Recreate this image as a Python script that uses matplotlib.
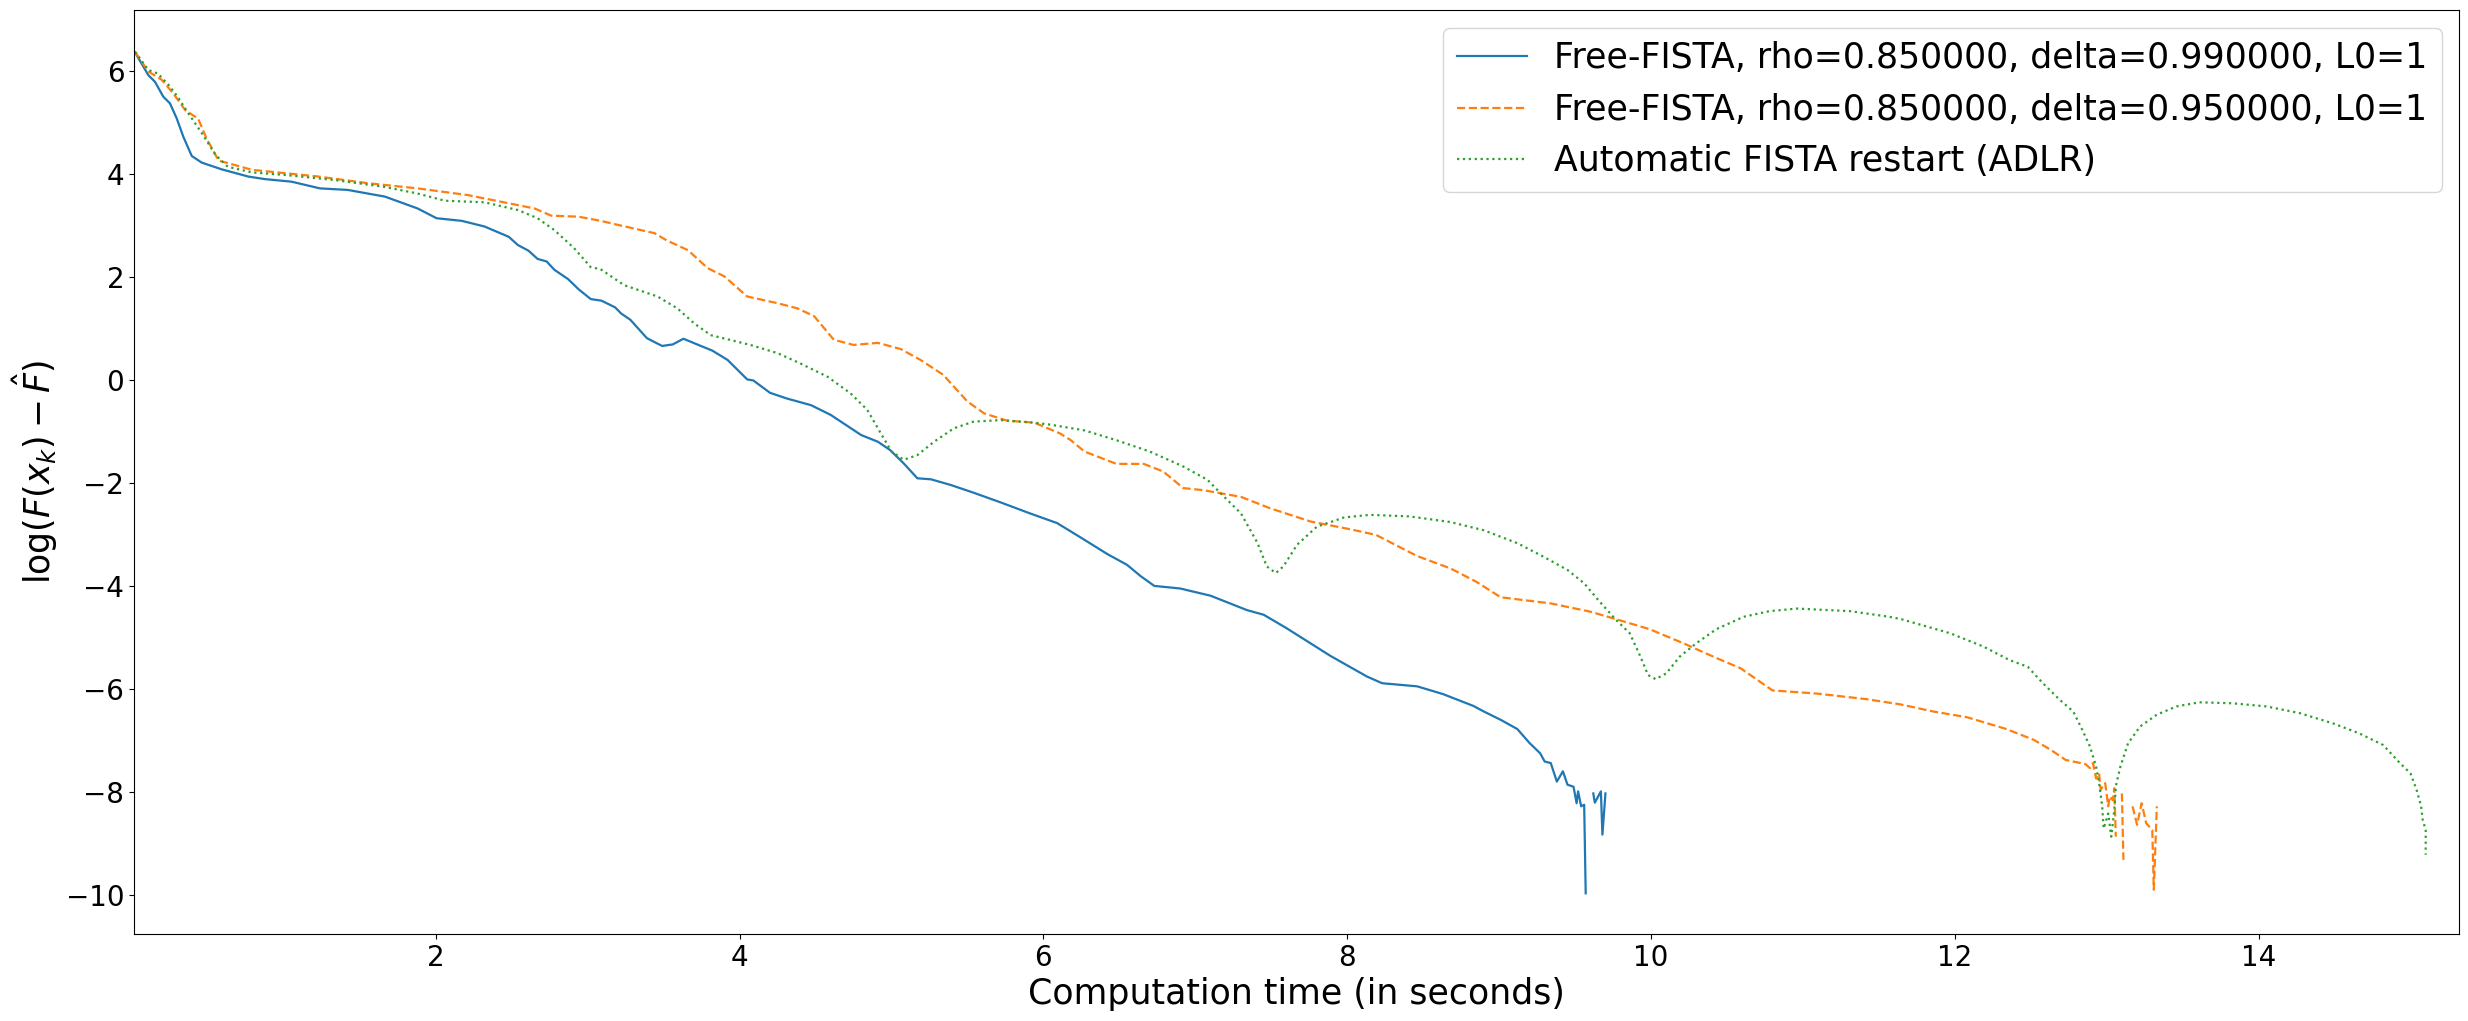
import matplotlib
matplotlib.use("Agg")
import matplotlib.pyplot as plt
import numpy as np

nan = np.nan

# Free-FISTA, delta=0.99
t_099 = [0.02, 0.107, 0.151, 0.206, 0.25, 0.294, 0.338, 0.393, 0.459, 0.59, 0.765, 0.875, 1.05,
         1.237, 1.42, 1.665, 1.88, 2.005, 2.17, 2.32, 2.48, 2.54, 2.61, 2.67, 2.73, 2.78, 2.87,
         2.94, 3.02, 3.09, 3.18, 3.22, 3.28, 3.39, 3.49, 3.56, 3.63, 3.72, 3.82, 3.92, 4.05,
         4.09, 4.20, 4.31, 4.47, 4.60, 4.80, 4.91, 4.99, 5.08, 5.17, 5.26, 5.39, 5.54, 5.72,
         5.91, 6.09, 6.24, 6.42, 6.55, 6.64, 6.73, 6.90, 7.10, 7.34, 7.45, 7.60, 7.89, 8.13,
         8.23, 8.46, 8.63, 8.83, 8.90, 9.01, 9.12, 9.20, 9.27, 9.30, 9.34, 9.38, 9.42, 9.45,
         9.49, 9.51, 9.52, 9.54, 9.56, 9.57, 9.60, 9.62, 9.63, 9.67, 9.68, 9.70]
f_099 = [6.36, 5.92, 5.79, 5.50, 5.37, 5.08, 4.72, 4.35, 4.22, 4.09, 3.95, 3.90, 3.85,
         3.72, 3.69, 3.56, 3.33, 3.14, 3.09, 2.98, 2.78, 2.62, 2.51, 2.35, 2.30, 2.14, 1.96,
         1.76, 1.57, 1.54, 1.41, 1.29, 1.17, 0.81, 0.66, 0.69, 0.80, 0.69, 0.57, 0.39, 0.01,
         -0.01, -0.25, -0.36, -0.49, -0.68, -1.07, -1.20, -1.36, -1.62, -1.91, -1.93, -2.04, -2.19, -2.38,
         -2.59, -2.78, -3.05, -3.38, -3.59, -3.81, -4.00, -4.05, -4.19, -4.47, -4.56, -4.82, -5.36, -5.76,
         -5.89, -5.95, -6.10, -6.33, -6.44, -6.60, -6.78, -7.05, -7.25, -7.41, -7.44, -7.80, -7.60, -7.86,
         -7.90, -8.22, -7.99, -8.28, -8.25, -9.97, nan, -8.03, -8.21, -7.99, -8.83, -8.03]

# Free-FISTA, delta=0.95
t_095 = [0.02, 0.107, 0.195, 0.27, 0.35, 0.436, 0.49, 0.57, 0.79, 1.226, 1.555, 1.88, 2.21,
         2.43, 2.65, 2.76, 2.94, 3.085, 3.20, 3.44, 3.52, 3.66, 3.79, 3.90, 4.05, 4.25, 4.38,
         4.49, 4.62, 4.75, 4.91, 5.06, 5.19, 5.34, 5.50, 5.61, 5.76, 5.94, 6.11, 6.18, 6.27,
         6.48, 6.66, 6.79, 6.92, 7.05, 7.30, 7.49, 7.76, 8.02, 8.19, 8.46, 8.68, 8.85, 9.01,
         9.34, 9.60, 9.82, 9.99, 10.21, 10.43, 10.59, 10.80, 11.09, 11.42, 11.64, 11.86, 12.08,
         12.34, 12.52, 12.63, 12.73, 12.86, 12.89, 12.91, 12.93, 12.95, 12.96, 12.99, 13.01,
         13.02, 13.04, 13.05, 13.06, 13.08, 13.10, 13.11, 13.14, 13.17, 13.20, 13.23, 13.26,
         13.30, 13.31, 13.33]
f_095 = [6.37, 5.99, 5.83, 5.57, 5.24, 5.07, 4.69, 4.26, 4.08, 3.95, 3.82, 3.72, 3.59,
         3.46, 3.33, 3.19, 3.17, 3.09, 3.01, 2.85, 2.71, 2.52, 2.17, 2.01, 1.62, 1.49, 1.39,
         1.24, 0.78, 0.68, 0.72, 0.60, 0.39, 0.10, -0.42, -0.65, -0.79, -0.83, -1.04, -1.17, -1.39,
         -1.63, -1.63, -1.78, -2.10, -2.14, -2.27, -2.49, -2.75, -2.90, -3.01, -3.42, -3.66, -3.92, -4.22,
         -4.34, -4.50, -4.69, -4.84, -5.11, -5.40, -5.60, -6.03, -6.09, -6.20, -6.30, -6.44, -6.55,
         -6.78, -6.99, -7.18, -7.38, -7.46, -7.54, -7.44, -7.74, -7.64, -7.96, -7.83, -8.28,
         -8.09, -8.16, -7.93, -8.87, nan, -8.03, -9.32, nan, -8.28, -8.64, -8.22, -8.61,
         -8.74, -9.90, -8.28]

# Automatic FISTA restart (ADLR)
t_adlr = [0.02, 0.107, 0.17, 0.24, 0.30, 0.37, 0.46, 0.55, 0.63, 0.79, 1.01, 1.34, 1.66,
          1.88, 2.06, 2.32, 2.54, 2.67, 2.78, 2.91, 3.02, 3.085, 3.24, 3.46, 3.59, 3.70, 3.81,
          4.07, 4.25, 4.40, 4.58, 4.73, 4.84, 4.93, 5.00, 5.08, 5.17, 5.28, 5.41, 5.54, 5.72,
          5.94, 6.05, 6.27, 6.48, 6.70, 6.92, 7.08, 7.19, 7.30, 7.41, 7.47, 7.53, 7.58, 7.67,
          7.80, 7.98, 8.15, 8.41, 8.68, 8.90, 9.12, 9.29, 9.45, 9.56, 9.66, 9.77, 9.86, 9.93,
          9.98, 10.03, 10.10, 10.19, 10.30, 10.43, 10.61, 10.78, 10.96, 11.31, 11.57, 11.64,
          11.97, 12.19, 12.36, 12.48, 12.58, 12.69, 12.78, 12.84, 12.89, 12.93, 12.95, 12.97,
          12.98, 13.01, 13.03, 13.05, 13.06, 13.09, 13.14, 13.22, 13.33, 13.46, 13.61, 13.83,
          14.05, 14.27, 14.49, 14.66, 14.82, 14.93, 15.00, 15.04, 15.07, 15.08, 15.10, 15.10]
f_adlr = [6.37, 6.02, 5.95, 5.73, 5.50, 5.18, 4.79, 4.37, 4.14, 4.03, 3.98, 3.88, 3.75,
          3.62, 3.48, 3.45, 3.30, 3.14, 2.91, 2.56, 2.19, 2.15, 1.84, 1.62, 1.39, 1.10, 0.87,
          0.68, 0.52, 0.32, 0.06, -0.26, -0.58, -1.04, -1.39, -1.55, -1.46, -1.20, -0.94, -0.81, -0.78,
          -0.83, -0.87, -0.98, -1.17, -1.39, -1.68, -1.94, -2.27, -2.59, -3.17, -3.62, -3.75, -3.62, -3.20,
          -2.85, -2.67, -2.62, -2.65, -2.76, -2.92, -3.17, -3.43, -3.69, -3.95, -4.30, -4.66, -4.92, -5.37,
          -5.73, -5.81, -5.70, -5.37, -5.11, -4.84, -4.60, -4.49, -4.44, -4.49, -4.60, -4.64,
          -4.92, -5.18, -5.44, -5.57, -5.89, -6.21, -6.44, -6.80, -7.12, -7.51, -7.83, -8.28,
          -8.71, -8.42, -8.87, -8.35, -7.89, -7.51, -7.06, -6.73, -6.50, -6.34, -6.26, -6.28,
          -6.34, -6.47, -6.67, -6.86, -7.09, -7.44, -7.64, -7.96, -8.28, -8.54, -8.74, -9.22]

labels = ["Free-FISTA, rho=0.850000, delta=0.990000, L0=1",
          "Free-FISTA, rho=0.850000, delta=0.950000, L0=1",
          "Automatic FISTA restart (ADLR)"]

fig = plt.figure(figsize=(24.68, 10.21), dpi=100)
ax = fig.add_subplot(111)
fig.subplots_adjust(left=0.0543, right=0.9964, top=0.990, bottom=0.0852)

ax.plot(t_099, f_099, "-", lw=1.6, label=labels[0])
ax.plot(t_095, f_095, "--", lw=1.6, label=labels[1])
ax.plot(t_adlr, f_adlr, ":", lw=1.6, label=labels[2])

ax.set_xlim(0.013, 15.32)
ax.set_ylim(-10.76, 7.18)
ax.set_xticks([2, 4, 6, 8, 10, 12, 14])
ax.set_yticks([-10, -8, -6, -4, -2, 0, 2, 4, 6])
ax.tick_params(labelsize=20)
ax.set_xlabel("Computation time (in seconds)", fontsize=25)
ax.set_ylabel(r"$\log(F(x_k) - \hat{F})$", fontsize=25)
ax.legend(loc="upper right", fontsize=25)

fig.savefig("out.png", dpi=100)
